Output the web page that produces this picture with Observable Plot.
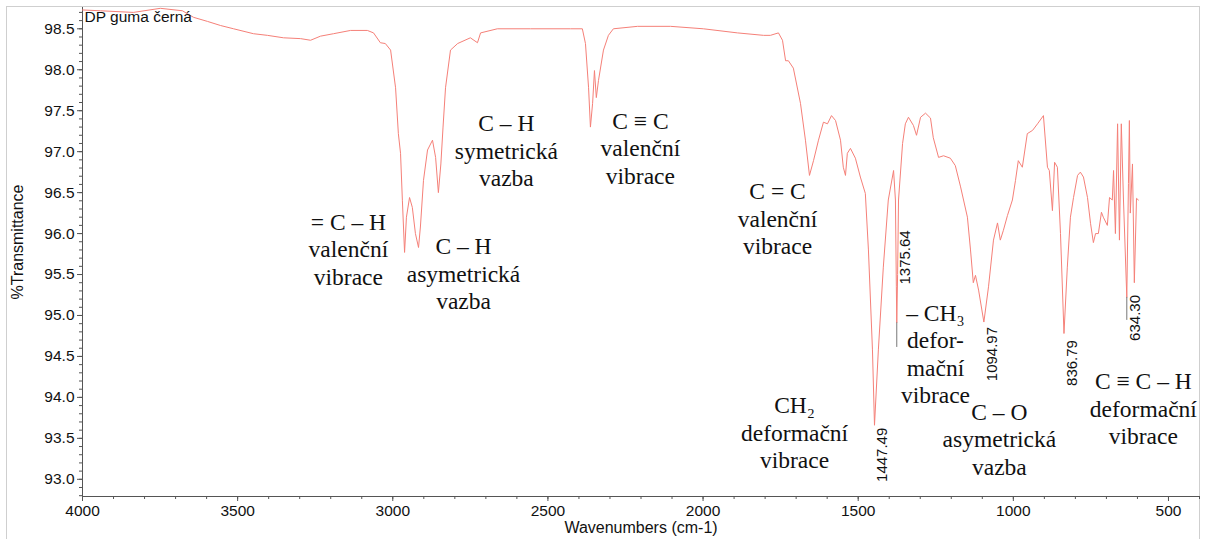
<!DOCTYPE html>
<html><head><meta charset="utf-8">
<script src="https://cdn.jsdelivr.net/npm/d3@7"></script>
<script src="https://cdn.jsdelivr.net/npm/@observablehq/plot@0.6"></script>
<style>
body{margin:0;background:#fff;}
#frame{position:absolute;left:6px;top:6px;width:1192px;height:560px;border:1px solid #cfcfcf;border-bottom:none;}
#chart{position:absolute;left:0;top:0;}
</style></head><body>
<div id="frame"></div><div id="chart"></div>
<script>
const title = "DP guma černá";
const xLabel = "Wavenumbers (cm-1)";
const yLabel = "%Transmittance";

const wavenumbers = [4000,3942,3836,3749,3678,3642,3597,3555,3513,3449,3404,3352,3297,3265,3233,3191,3136,3082,3062,3040,3024,3007,2991,2982,2975,2969,2962,2956,2946,2937,2927,2917,2911,2901,2888,2872,2862,2853,2845,2838,2830,2814,2791,2750,2727,2717,2663,2556,2427,2389,2379,2369,2363,2356,2350,2344,2337,2321,2305,2289,2211,2105,1999,1889,1805,1783,1757,1744,1734,1725,1709,1686,1670,1657,1644,1628,1612,1599,1586,1573,1557,1548,1541,1535,1525,1509,1493,1477,1467,1454,1447.49,1435,1419,1403,1386,1380,1377,1375.64,1373,1370,1357,1348,1338,1322,1312,1299,1283,1267,1258,1241,1225,1203,1187,1170,1148,1138,1129,1122,1112,1094.97,1080,1064,1051,1042,1032,1019,1003,993,984,971,955,938,922,903,890,884,874,867,858,848,836.79,826,816,806,793,784,774,761,751,742,735,726,716,710,697,690,681,677,671,664,658,652,645,634.30,629,626,623,616,610,603,597];
const transmittance = [98.73,98.72,98.70,98.75,98.72,98.64,98.59,98.54,98.50,98.44,98.42,98.39,98.38,98.36,98.41,98.44,98.48,98.48,98.45,98.33,98.32,98.24,97.78,97.22,96.98,96.40,95.77,96.20,96.44,96.32,96.00,95.83,96.08,96.65,97.02,97.14,96.93,96.50,96.85,97.30,97.78,98.24,98.32,98.39,98.33,98.45,98.50,98.50,98.50,98.50,98.32,97.78,97.30,97.59,97.99,97.66,97.87,98.24,98.42,98.50,98.53,98.53,98.50,98.45,98.42,98.42,98.45,98.36,98.11,98.11,98.02,97.59,97.14,96.71,96.89,97.14,97.36,97.34,97.44,97.38,97.14,96.81,96.71,96.98,97.04,96.92,96.69,96.49,95.80,94.58,93.66,94.58,95.59,96.41,96.77,96.41,95.35,94.91,95.50,96.41,97.10,97.34,97.42,97.32,97.20,97.42,97.47,97.41,97.17,96.93,96.95,96.92,96.83,96.57,96.20,95.80,95.40,95.49,95.31,94.92,95.35,95.92,96.13,95.92,96.04,96.22,96.41,96.65,96.89,96.81,97.22,97.26,97.34,97.44,96.81,96.77,96.28,96.87,96.81,96.00,94.78,95.59,96.20,96.44,96.71,96.75,96.69,96.44,96.12,95.89,96.00,96.00,96.26,96.20,96.10,96.44,96.41,96.77,96.00,97.34,95.92,97.34,96.41,95.22,96.61,97.38,96.25,96.85,95.40,96.43,96.41];

const peakWavenumbers = [1447.49, 1375.64, 1094.97, 836.79, 634.30];
const peakLabelTop = [93.63, 96.04, 94.86, 94.70, 95.25];

const markerWavenumbers = [1375.64, 634.30];
const markerTop = [94.91, 95.22];
const markerBottom = [94.61, 94.94];

const annotationTexts = [
  "= C – H\nvalenční\nvibrace",
  "C – H\nasymetrická\nvazba",
  "C – H\nsymetrická\nvazba",
  "C ≡ C\nvalenční\nvibrace",
  "C = C\nvalenční\nvibrace",
  "CH₂\ndeformační\nvibrace",
  "– CH₃\ndefor-\nmační\nvibrace",
  "C – O\nasymetrická\nvazba",
  "C ≡ C – H\ndeformační\nvibrace"
];
const annotationX = [3143, 2772, 2634, 2202, 1760, 1705, 1251, 1045, 581];
const annotationY = [95.82, 95.52, 97.02, 97.05, 96.19, 93.58, 94.54, 93.50, 93.87];

const xMajor = [4000,3500,3000,2500,2000,1500,1000,500];
const xMinor = d3.range(4000, 399, -100);
const yMajor = [93.0,93.5,94.0,94.5,95.0,95.5,96.0,96.5,97.0,97.5,98.0,98.5];
const yMinor = d3.range(928, 988, 1).map(d => d / 10);

const spectrum = wavenumbers.map((w, i) => ({w, t: transmittance[i]}));
const peaks = peakWavenumbers.map((w, i) => ({w, t: peakLabelTop[i], label: d3.format(".2f")(w)}));
const markers = markerWavenumbers.map((w, i) => ({w, t1: markerTop[i], t2: markerBottom[i]}));
const annotations = annotationTexts.map((text, i) => ({text, w: annotationX[i], t: annotationY[i]}));

const sans = "'Liberation Sans', Arial, Helvetica, sans-serif";
const serif = "'Liberation Serif', 'Times New Roman', serif";

const plot = Plot.plot({
  width: 1205, height: 539,
  marginLeft: 82, marginRight: 6, marginTop: 7, marginBottom: 43,
  style: {fontFamily: sans, fontSize: "15px", background: "transparent", color: "#111", overflow: "visible"},
  x: {domain: [4000, 400]},
  y: {domain: [92.79, 98.76]},
  marks: [
    Plot.axisY({ticks: yMinor, tickSize: 3, tickFormat: () => "", label: null, color: "#555"}),
    Plot.axisY({ticks: yMajor, tickSize: 5, tickPadding: 3, tickFormat: d3.format(".1f"), label: null, stroke: "#555", fill: "#111", fontSize: 15.5}),
    Plot.axisX({ticks: xMinor, tickSize: 3, tickFormat: () => "", label: null, color: "#555"}),
    Plot.axisX({ticks: xMajor, tickSize: 5, tickPadding: 3, tickFormat: d => String(d), label: null, stroke: "#555", fill: "#111", fontSize: 15.5}),
    Plot.ruleX([4000], {stroke: "#555"}),
    Plot.ruleY([92.79], {stroke: "#555"}),
    Plot.line(spectrum, {x: "w", y: "t", stroke: "#f58078", strokeWidth: 1}),
    Plot.ruleX(markers, {x: "w", y1: "t1", y2: "t2", stroke: "#777"}),
    Plot.text(peaks, {x: "w", y: "t", text: "label", rotate: -90, textAnchor: "end", lineAnchor: "middle", dx: 8, fontSize: 15, fill: "#111"}),
    Plot.text(annotations, {x: "w", y: "t", text: "text", fontFamily: serif, fontSize: 23.5, lineHeight: 1.17, lineAnchor: "middle", fill: "#111"}),
    Plot.text([title], {frameAnchor: "top-left", textAnchor: "start", lineAnchor: "top", dx: 2, dy: 3, fontSize: 15.5, fill: "#111"}),
    Plot.text([xLabel], {frameAnchor: "bottom", textAnchor: "middle", lineAnchor: "middle", dy: 31, fontSize: 16, fill: "#111"}),
    Plot.text([yLabel], {frameAnchor: "left", textAnchor: "middle", lineAnchor: "middle", rotate: -90, dx: -65, dy: -10, fontSize: 16, fill: "#111"})
  ]
});
document.getElementById("chart").appendChild(plot);
</script>
</body></html>
